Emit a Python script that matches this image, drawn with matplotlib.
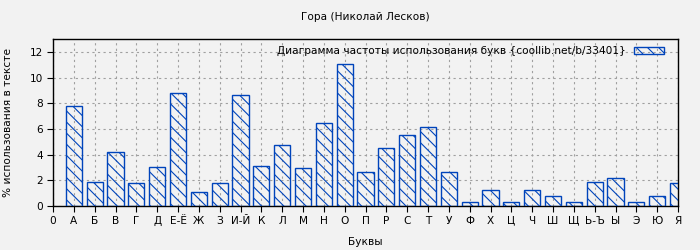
import matplotlib
matplotlib.use("Agg")
import matplotlib.pyplot as plt
import numpy as np

# Data
letters = ['А', 'Б', 'В', 'Г', 'Д', 'Е-Ё', 'Ж', 'З', 'И-Й', 'К', 'Л', 'М', 'Н', 'О', 'П',
           'Р', 'С', 'Т', 'У', 'Ф', 'Х', 'Ц', 'Ч', 'Ш', 'Щ', 'Ь-Ъ', 'Ы', 'Э', 'Ю', 'Я']
freq = [7.8, 1.85, 4.19, 1.77, 3.05, 8.83, 1.07, 1.77, 8.65, 3.10, 4.74, 2.94, 6.46, 11.09, 2.63,
        4.53, 5.52, 6.15, 2.63, 0.29, 1.22, 0.29, 1.22, 0.76, 0.29, 1.85, 2.16, 0.29, 0.76, 1.77]
tick_labels = ['0'] + letters
y_ticks = [0, 2, 4, 6, 8, 10, 12]

plt.rcParams['font.family'] = 'DejaVu Sans'
plt.rcParams['font.size'] = 7.6
plt.rcParams['hatch.linewidth'] = 0.8
bg = '#f2f2f2'
edge = '#0044bb'

fig = plt.figure(figsize=(7, 2.5), dpi=100, facecolor=bg)
ax = fig.add_axes([53 / 700, 44 / 250, 625 / 700, 167 / 250])
ax.set_facecolor(bg)

x = np.arange(1, len(letters) + 1)
ax.bar(x, freq, width=0.78, facecolor='none', edgecolor=edge, hatch='\\\\\\', linewidth=1.0,
       label='Диаграмма частоты использования букв {coollib.net/b/33401}', zorder=3)

ax.set_xlim(0, 30)
ax.set_ylim(0, 13)
ax.set_xticks(np.arange(0, 31))
ax.set_xticklabels(tick_labels)
ax.set_yticks(y_ticks)
ax.grid(True, color='#a0a0a0', linestyle=(0, (2, 3)), linewidth=0.8, zorder=0)
ax.tick_params(direction='out', length=4, width=0.8, color='black', pad=3)
for s in ax.spines.values():
    s.set_linewidth(1.0)

ax.set_xlabel('Буквы', labelpad=8)
ax.set_ylabel('% использования в тексте', labelpad=12)
ax.set_title('Гора (Николай Лесков)', fontsize=7.6, pad=14)

leg = ax.legend(loc='upper right', markerfirst=False, frameon=False, handlelength=2.9,
                handleheight=0.6, handletextpad=0.8, borderaxespad=0.3,
                bbox_to_anchor=(0.99, 1.0), fontsize=7.6)

fig.savefig('out.png', dpi=100, facecolor=bg)
